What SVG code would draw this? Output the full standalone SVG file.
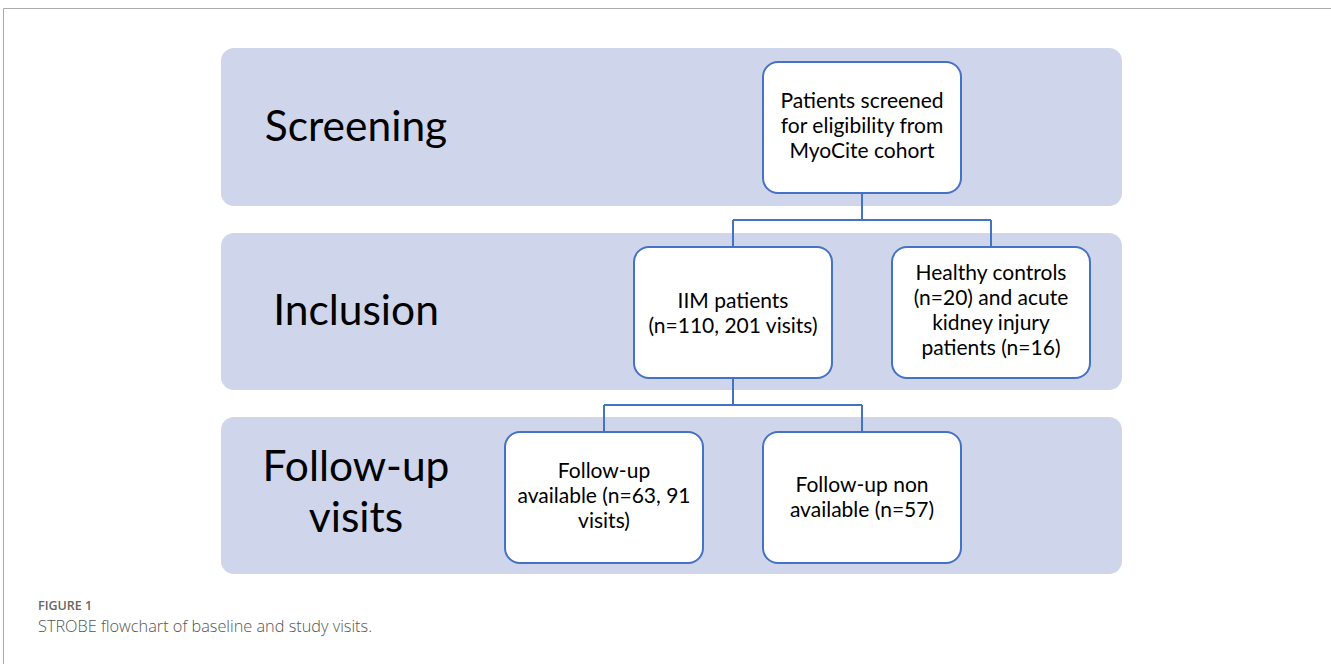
<svg xmlns="http://www.w3.org/2000/svg" width="1331" height="664" viewBox="0 0 1331 664">
<style>
.band{fill:#CFD5EA}
.node rect{fill:#FFFFFF;stroke:#4472C4;stroke-width:2}
.conn{fill:none;stroke:#4472C4;stroke-width:2}
.stage{font-family:Lato,"Open Sans",sans-serif;font-size:42.5px;fill:#000;text-anchor:middle}
.nt{font-family:Lato,"Open Sans",sans-serif;font-size:21px;fill:#000;text-anchor:middle}
.cap1{font-family:"Open Sans",sans-serif;font-size:12.5px;font-weight:600;fill:#666}
.cap2{font-family:"Open Sans",sans-serif;font-size:16.3px;font-weight:300;fill:#555}
</style>
<rect width="1331" height="664" fill="#FFFFFF"/>
<path d="M3.5 664 V8.5 H1331" fill="none" stroke="#AAAAAA" stroke-width="1"/>
<g id="bands">
<rect class="band" x="221" y="48" width="901" height="158" rx="13"/>
<rect class="band" x="221" y="233" width="901" height="157" rx="13"/>
<rect class="band" x="221" y="417" width="901" height="157" rx="13"/>
</g>
<g id="stage-labels">
<text class="stage" x="356" y="141">Screening</text>
<text class="stage" x="356" y="325">Inclusion</text>
<text class="stage" x="356" y="481">Follow-up</text>
<text class="stage" x="356" y="532">visits</text>
</g>
<g id="connectors">
<path class="conn" d="M862 193 V220 M733 220 H991 M733 220 V247 M991 220 V247"/>
<path class="conn" d="M733 378 V405 M604 405 H862 M604 405 V432 M862 405 V432"/>
</g>
<g id="node-screened" class="node">
<rect x="763" y="62" width="198" height="131" rx="15"/>
<text class="nt" x="862" y="108">Patients screened</text>
<text class="nt" x="862" y="133">for eligibility from</text>
<text class="nt" x="862" y="158">MyoCite cohort</text>
</g>
<g id="node-iim" class="node">
<rect x="634" y="247" width="198" height="131" rx="15"/>
<text class="nt" x="733" y="308">IIM patients</text>
<text class="nt" x="733" y="333">(n=110, 201 visits)</text>
</g>
<g id="node-controls" class="node">
<rect x="892" y="247" width="198" height="131" rx="15"/>
<text class="nt" x="991" y="280">Healthy controls</text>
<text class="nt" x="991" y="305">(n=20) and acute</text>
<text class="nt" x="991" y="330">kidney injury</text>
<text class="nt" x="991" y="355">patients (n=16)</text>
</g>
<g id="node-fu-available" class="node">
<rect x="505" y="432" width="198" height="131" rx="15"/>
<text class="nt" x="604" y="478">Follow-up</text>
<text class="nt" x="604" y="503">available (n=63, 91</text>
<text class="nt" x="604" y="528">visits)</text>
</g>
<g id="node-fu-non" class="node">
<rect x="763" y="432" width="198" height="131" rx="15"/>
<text class="nt" x="862" y="492">Follow-up non</text>
<text class="nt" x="862" y="517">available (n=57)</text>
</g>
<g id="caption">
<text class="cap1" x="38" y="610">FIGURE 1</text>
<text class="cap2" x="38" y="632">STROBE flowchart of baseline and study visits.</text>
</g>
</svg>
